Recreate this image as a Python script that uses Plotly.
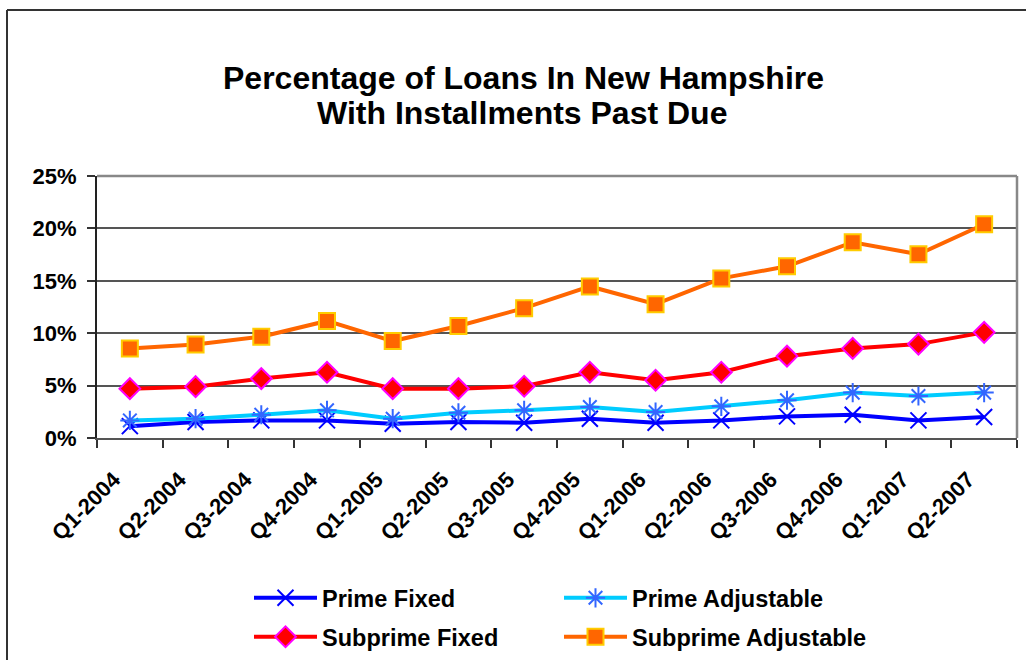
import plotly.graph_objects as go

quarters = ["Q1-2004", "Q2-2004", "Q3-2004", "Q4-2004", "Q1-2005", "Q2-2005", "Q3-2005",
            "Q4-2005", "Q1-2006", "Q2-2006", "Q3-2006", "Q4-2006", "Q1-2007", "Q2-2007"]
prime_fixed = [1.13, 1.52, 1.68, 1.68, 1.36, 1.52, 1.46, 1.84, 1.46, 1.68, 2.06, 2.22, 1.68, 2.00]
prime_adjustable = [1.68, 1.84, 2.22, 2.64, 1.84, 2.41, 2.64, 2.96, 2.48, 3.02, 3.60, 4.33, 4.01, 4.33]
subprime_fixed = [4.71, 4.90, 5.67, 6.28, 4.71, 4.71, 4.94, 6.28, 5.51, 6.28, 7.81, 8.55, 8.96, 10.08]
subprime_adjustable = [8.55, 8.93, 9.67, 11.17, 9.25, 10.69, 12.39, 14.46, 12.77, 15.23, 16.38, 18.68, 17.53, 20.40]
y_ticks = [0, 5, 10, 15, 20, 25]
y_ticklabels = ["0%", "5%", "10%", "15%", "20%", "25%"]
title_lines = ["Percentage of Loans In New Hampshire", "With Installments Past Due"]

FONT = "Liberation Sans, Arial, sans-serif"
W, H = 1026, 660
L, R, T, B = 97, 9, 176, 222
pw, ph = W - L - R, H - T - B


def px_x(x):
    return (x - L) / pw


def px_y(y):
    return (H - B - y) / ph


fig = go.Figure()
fig.add_trace(go.Scatter(
    x=quarters, y=prime_fixed, name="Prime Fixed", mode="lines+markers",
    line=dict(color="#0000FF", width=4),
    marker=dict(symbol="x-thin-open", size=16, color="#0000FF", line=dict(color="#0000FF", width=2)),
    legend="legend", showlegend=True))
fig.add_trace(go.Scatter(
    x=quarters, y=prime_adjustable, name="Prime Adjustable", mode="lines+markers",
    line=dict(color="#00CCFF", width=4),
    marker=dict(symbol="asterisk-open", size=16, color="#3366FF", line=dict(color="#3366FF", width=2)),
    legend="legend2", showlegend=True))
fig.add_trace(go.Scatter(
    x=quarters, y=subprime_fixed, name="Subprime Fixed", mode="lines+markers",
    line=dict(color="#FF0000", width=4),
    marker=dict(symbol="diamond", size=16, color="#FF0000", line=dict(color="#FF00FF", width=2)),
    legend="legend3", showlegend=True))
fig.add_trace(go.Scatter(
    x=quarters, y=subprime_adjustable, name="Subprime Adjustable", mode="lines+markers",
    line=dict(color="#FF6600", width=4),
    marker=dict(symbol="square", size=16, color="#FF6600", line=dict(color="#FFCC00", width=2)),
    legend="legend4", showlegend=True))

legfont = dict(family=FONT, size=23.5, color="black", weight="bold")
col1_x, col2_x = px_x(249), px_x(559)
row1_y, row2_y = px_y(598), px_y(637)


def leg(x, y):
    return dict(x=x, y=y, xanchor="left", yanchor="middle", xref="paper", yref="paper",
                font=legfont, bgcolor="rgba(0,0,0,0)", itemwidth=63, orientation="v")


titlefont = dict(family=FONT, size=32, color="black", weight="bold")

fig.update_layout(
    width=W, height=H,
    margin=dict(l=L, r=R, t=T, b=B, autoexpand=False),
    paper_bgcolor="white", plot_bgcolor="white",
    showlegend=True,
    legend=leg(col1_x, row1_y),
    legend2=leg(col2_x, row1_y),
    legend3=leg(col1_x, row2_y),
    legend4=leg(col2_x, row2_y),
    annotations=[
        dict(text=title_lines[0], x=px_x(523), y=px_y(78), xref="paper", yref="paper",
             xanchor="center", yanchor="middle", showarrow=False, font=titlefont),
        dict(text=title_lines[1], x=px_x(522), y=px_y(113), xref="paper", yref="paper",
             xanchor="center", yanchor="middle", showarrow=False, font=titlefont),
    ],
    xaxis=dict(type="category", tickson="boundaries", ticks="outside", ticklen=8, tickwidth=1.5,
               tickcolor="#333333", showline=True, linecolor="#555555", linewidth=2,
               showgrid=False, tickangle=-45, automargin=False,
               ticklabelstandoff=18, ticklabelshift=-16,
               tickfont=dict(family=FONT, size=22, color="black", weight="bold"),
               range=[-0.5, len(quarters) - 0.5]),
    yaxis=dict(range=[0, 25], tickvals=y_ticks, ticktext=y_ticklabels, ticks="outside", ticklen=8,
               tickwidth=1.5, tickcolor="#333333", showline=True, linecolor="#222222", linewidth=2,
               showgrid=True, gridcolor="#555555", gridwidth=1.5, zeroline=False, automargin=False,
               ticklabelstandoff=6,
               tickfont=dict(family=FONT, size=22, color="black", weight="bold")),
    shapes=[
        dict(type="line", xref="paper", yref="paper", x0=0, x1=1, y0=1, y1=1,
             line=dict(color="#888888", width=2.5), layer="above"),
        dict(type="line", xref="paper", yref="paper", x0=1, x1=1, y0=0, y1=1,
             line=dict(color="#888888", width=2.5), layer="above"),
        dict(type="line", xref="paper", yref="paper", x0=px_x(7), x1=px_x(1040), y0=px_y(10), y1=px_y(10),
             line=dict(color="#333333", width=2), layer="above"),
        dict(type="line", xref="paper", yref="paper", x0=px_x(7), x1=px_x(7), y0=px_y(10), y1=px_y(680),
             line=dict(color="#333333", width=2), layer="above"),
    ],
)

fig.write_html("out.html", config={"displayModeBar": False},
               post_script="document.body.style.margin='0';document.body.style.overflow='hidden';")
